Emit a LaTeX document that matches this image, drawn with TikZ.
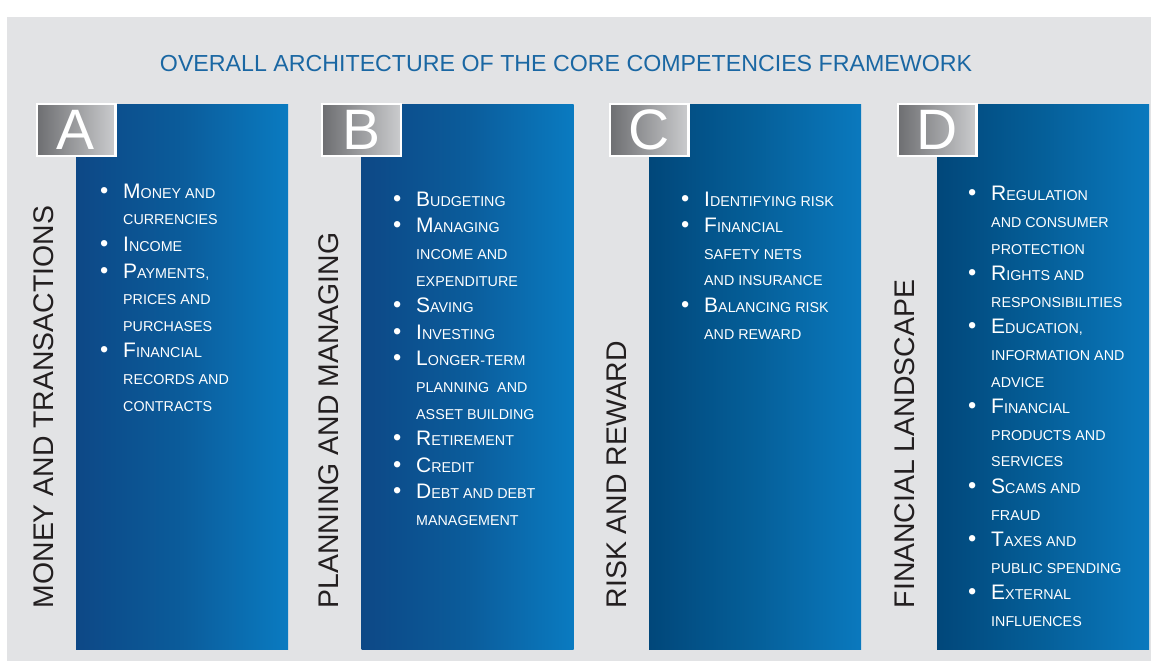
\documentclass[tikz,border=0pt]{standalone}
\usepackage{fontspec}
\setmainfont{Liberation Sans}
\usepackage{xcolor}
\definecolor{fwGray}{HTML}{E2E3E5}
\definecolor{fwTitle}{HTML}{1A67A3}
\definecolor{fwDark}{HTML}{231F20}
\definecolor{fwBoxDark}{HTML}{6D6E71}
\definecolor{fwBoxLight}{HTML}{CBCCCE}
\definecolor{fwBlueDark}{HTML}{0D4886}
\definecolor{fwBlueMid}{HTML}{0B5C9B}
\definecolor{fwBlueLight}{HTML}{0A7BC1}
\definecolor{fwNavyDark}{HTML}{01477A}
\definecolor{fwNavyMid}{HTML}{055F99}
\definecolor{fwNavyLight}{HTML}{0A79BE}
\usepackage{tikz}
\usetikzlibrary{positioning}
\newcommand{\bul}{\makebox[23pt][l]{\fontsize{23.5}{26.6}\selectfont\textbullet}}
\newcommand{\contd}{\hspace*{23pt}}
\newcommand{\smc}{\fontsize{14.3}{26.6}\selectfont}
\tikzset{
    panel/.style={
        rectangle,
        inner sep=0pt,
        anchor=north west,
        minimum width=212pt,
        minimum height=545pt
    },
    panelAB/.style={
        panel,
        left color=fwBlueDark,
        right color=fwBlueLight,
        middle color=fwBlueMid
    },
    panelCD/.style={
        panel,
        left color=fwNavyDark,
        right color=fwNavyLight,
        middle color=fwNavyMid
    },
    letterbox/.style={
        rectangle,
        draw=white,
        line width=2.4pt,
        left color=fwBoxDark,
        right color=fwBoxLight,
        minimum width=78.6pt,
        minimum height=51.6pt,
        inner sep=0pt,
        text=white,
        font=\fontsize{57}{57}\selectfont
    },
    sidelabel/.style={
        rotate=90,
        anchor=base west,
        inner sep=0pt,
        text=fwDark,
        font=\fontsize{28.4}{30}\selectfont
    },
    % base anchor sits on the last line of the list
    itemlist/.style={
        align=left,
        anchor=base west,
        inner sep=0pt,
        text=white,
        font=\fontsize{21}{26.6}\selectfont
    },
    title/.style={
        anchor=base,
        inner sep=0pt,
        text=fwTitle,
        font=\fontsize{23.2}{26}\selectfont
    }
}

\begin{document}
\begin{tikzpicture}[x=1pt, y=-1pt]
    \useasboundingbox (0,0) rectangle (1151,662);
    \fill[white] (0,0) rectangle (1151,662);
    \fill[fwGray] (7,17) rectangle (1151,661);

    \node[title] (title) at (566,71) {OVERALL ARCHITECTURE OF THE CORE COMPETENCIES FRAMEWORK};

    % Blue columns
    \node[panelAB] (panA) at (76,104) {};
    \node[panelAB] (panB) at (361.5,104) {};
    \node[panelCD] (panC) at (649,104) {};
    \node[panelCD] (panD) at (937,104) {};

    % Letter tabs on the column corners
    \node[letterbox] (boxA) at ([yshift=-26pt]panA.north west) {A};
    \node[letterbox] (boxB) at ([yshift=-26pt]panB.north west) {B};
    \node[letterbox] (boxC) at ([yshift=-26pt]panC.north west) {C};
    \node[letterbox] (boxD) at ([yshift=-26pt]panD.north west) {D};

    % Vertical titles
    \node[sidelabel] (labA) at ([xshift=-23pt,yshift=41pt]panA.south west) {MONEY AND TRANSACTIONS};
    \node[sidelabel] (labB) at ([xshift=-23pt,yshift=41pt]panB.south west) {PLANNING AND MANAGING};
    \node[sidelabel] (labC) at ([xshift=-23pt,yshift=41pt]panC.south west) {RISK AND REWARD};
    \node[sidelabel] (labD) at ([xshift=-23pt,yshift=41pt]panD.south west) {FINANCIAL LANDSCAPE};

    % Content areas
    \node[itemlist] (listA) at (100,411) {%
        \bul M{\smc ONEY AND}\\
        \contd{\smc CURRENCIES}\\
        \bul I{\smc NCOME}\\
        \bul P{\smc AYMENTS,}\\
        \contd{\smc PRICES AND}\\
        \contd{\smc PURCHASES}\\
        \bul F{\smc INANCIAL}\\
        \contd{\smc RECORDS AND}\\
        \contd{\smc CONTRACTS}};
    \node[itemlist] (listB) at (393,525.5) {%
        \bul B{\smc UDGETING}\\
        \bul M{\smc ANAGING}\\
        \contd{\smc INCOME AND}\\
        \contd{\smc EXPENDITURE}\\
        \bul S{\smc AVING}\\
        \bul I{\smc NVESTING}\\
        \bul L{\smc ONGER-TERM}\\
        \contd{\smc PLANNING\ \ AND}\\
        \contd{\smc ASSET BUILDING}\\
        \bul R{\smc ETIREMENT}\\
        \bul C{\smc REDIT}\\
        \bul D{\smc EBT AND DEBT}\\
        \contd{\smc MANAGEMENT}};
    \node[itemlist] (listC) at (681,339) {%
        \bul I{\smc DENTIFYING RISK}\\
        \bul F{\smc INANCIAL}\\
        \contd{\smc SAFETY NETS}\\
        \contd{\smc AND INSURANCE}\\
        \bul B{\smc ALANCING RISK}\\
        \contd{\smc AND REWARD}};
    \node[itemlist] (listD) at (968,626.5) {%
        \bul R{\smc EGULATION}\\
        \contd{\smc AND CONSUMER}\\
        \contd{\smc PROTECTION}\\
        \bul R{\smc IGHTS AND}\\
        \contd{\smc RESPONSIBILITIES}\\
        \bul E{\smc DUCATION,}\\
        \contd{\smc INFORMATION AND}\\
        \contd{\smc ADVICE}\\
        \bul F{\smc INANCIAL}\\
        \contd{\smc PRODUCTS AND}\\
        \contd{\smc SERVICES}\\
        \bul S{\smc CAMS AND}\\
        \contd{\smc FRAUD}\\
        \bul T{\smc AXES AND}\\
        \contd{\smc PUBLIC SPENDING}\\
        \bul E{\smc XTERNAL}\\
        \contd{\smc INFLUENCES}};
\end{tikzpicture}
\end{document}
